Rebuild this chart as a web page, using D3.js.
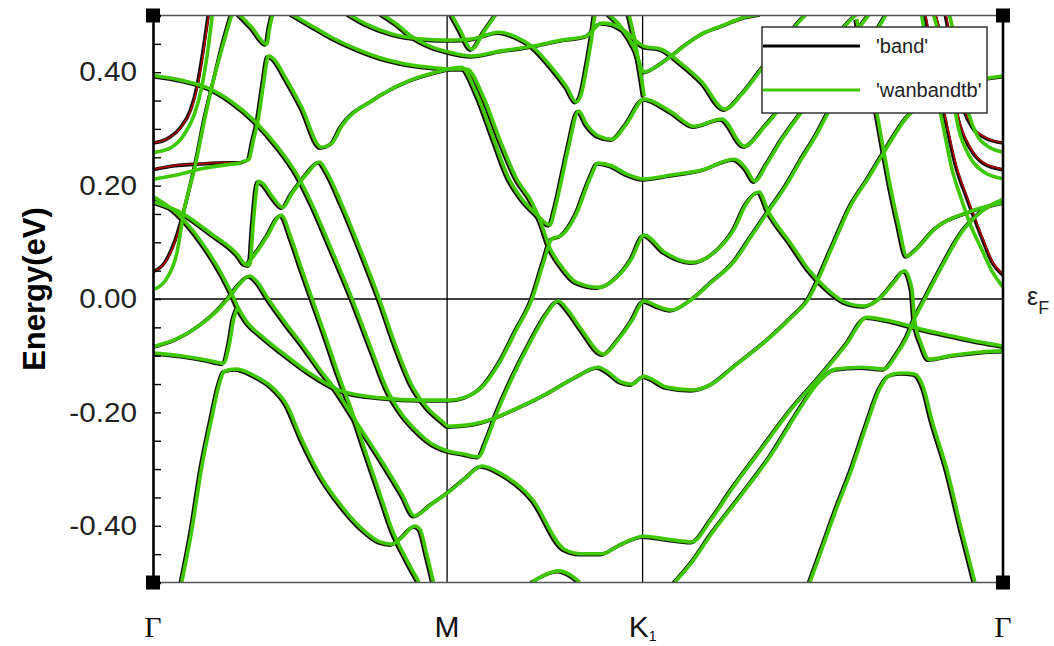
<!DOCTYPE html>
<html>
<head>
<meta charset="utf-8">
<script src="https://cdn.jsdelivr.net/npm/d3@7"></script>
<style>
  body { margin: 0; background: #fff; }
  svg { display: block; font-family: "Liberation Sans", Arial, sans-serif; }
</style>
</head>
<body>
<svg id="chart" width="1054" height="646"></svg>
<script>
// k runs along the path G-M-K1-G, normalised to 0..1 ; energies in eV
var kTicks = [0, 0.346, 0.576, 1];
var kNames = ["Γ", "M", "K", "Γ"];
var eTicks = [-0.45, -0.4, -0.35, -0.3, -0.25, -0.2, -0.15, -0.1, -0.05, 0, 0.05, 0.1, 0.15, 0.2, 0.25, 0.3, 0.35, 0.4, 0.45];
var eLabels = [-0.4, -0.2, 0, 0.2, 0.4];
var seriesNames = ["'band'", "'wanbandtb'"];

// bands, [k, E]
var b01 = [[0,.392],[.032,.384],[.064,.370],[.091,.346],[.120,.309],[.144,.268],[.167,.219],[.185,.166],[.208,.086],[.232,0],[.255,-.090],[.273,-.160],[.291,-.205],[.306,-.231],[.326,-.257],[.346,-.270],[.364,-.275],[.381,-.280],[.391,-.249],[.402,-.205],[.420,-.143],[.444,-.072],[.461,-.028],[.475,-.005],[.487,-.023],[.502,-.055],[.528,-.099],[.544,-.076],[.561,-.041],[.576,-.005],[.591,-.014],[.608,-.021],[.632,-.002],[.655,.028],[.682,.065],[.702,.109],[.722,.153],[.744,.201],[.761,.245],[.779,.289],[.796,.337],[.820,.395],[.844,.457],[.861,.501]];
var b02 = [[0,.275],[.016,.282],[.032,.302],[.044,.333],[.052,.377],[.059,.439],[.065,.501]];
var b03 = [[0,.257],[.020,.266],[.035,.289],[.047,.325],[.055,.369],[.062,.430],[.068,.501]];
var b04a = [[0,.228],[.026,.235],[.055,.238],[.085,.240],[.102,.240]];
var b04b = [[0,.210],[.026,.217],[.055,.228],[.085,.235],[.102,.238]];
var b04 = [[.102,.240],[.111,.245],[.116,.277],[.122,.316],[.128,.377],[.134,.427],[.140,.422],[.155,.386],[.173,.337],[.196,.266],[.208,.272],[.220,.303],[.259,.351],[.299,.383],[.346,.404]];
var b06 = [[.099,.501],[.114,.478],[.132,.448],[.135,.474],[.139,.501]];
var b07a = [[0,.048],[.014,.065],[.026,.104],[.038,.166],[.049,.236],[.061,.325],[.071,.386],[.081,.448],[.091,.501]];
var b07b = [[0,.016],[.014,.034],[.026,.078],[.035,.157],[.047,.228],[.059,.316],[.069,.383],[.080,.444],[.091,.501]];
var b08 = [[0,.169],[.032,.150],[.067,.113],[.099,.074],[.106,.060],[.112,.058],[.116,.131],[.122,.206],[.128,.201],[.138,.180],[.151,.160],[.161,.183],[.179,.219],[.194,.240],[.202,.224],[.220,.166],[.244,.078],[.264,0],[.285,-.090],[.302,-.152],[.320,-.192],[.338,-.217],[.346,-.226],[.367,-.224],[.385,-.219],[.424,-.196],[.461,-.169],[.496,-.139],[.522,-.122],[.532,-.129],[.549,-.148],[.561,-.152],[.576,-.138],[.585,-.143],[.602,-.157],[.632,-.162],[.655,-.152],[.682,-.120],[.722,-.072],[.749,-.034],[.769,-.002],[.796,.086],[.820,.166],[.839,.210],[.858,.257],[.885,.319],[.914,.354],[.949,.377],[1,.392]];
var b09 = [[0,.178],[.026,.150],[.055,.099],[.079,.042],[.091,.007],[.098,-.016],[.108,-.041],[.126,-.067],[.149,-.095],[.181,-.131],[.220,-.164],[.267,-.176],[.314,-.180],[.346,-.180],[.365,-.175],[.385,-.157],[.405,-.116],[.426,-.055],[.444,-.002],[.458,.065],[.467,.104],[.479,.111],[.496,.148],[.512,.210],[.522,.238],[.538,.233],[.555,.219],[.576,.210],[.608,.217],[.644,.226],[.682,.245],[.696,.228],[.706,.206],[.720,.236],[.738,.280],[.761,.328],[.785,.377],[.808,.430],[.832,.483],[.841,.501]];
var b10 = [[0,-.085],[.026,-.072],[.055,-.046],[.073,-.023],[.088,.002],[.100,.025],[.112,.039],[.121,.028],[.133,0],[.155,-.046],[.173,-.081],[.196,-.129],[.212,-.160],[.235,-.213],[.267,-.287],[.291,-.346],[.306,-.384],[.326,-.363],[.346,-.342],[.367,-.316],[.385,-.296],[.408,-.310],[.444,-.354],[.482,-.443],[.502,-.451],[.526,-.451],[.549,-.434],[.576,-.420],[.602,-.425],[.632,-.430],[.655,-.390],[.679,-.337],[.714,-.266],[.749,-.196],[.785,-.134],[.814,-.081],[.838,-.034],[.867,-.041],[.902,-.055],[.938,-.067],[.973,-.078],[1,-.085]];
var b11 = [[.108,.058],[.120,.081],[.132,.108],[.149,.146],[.161,.104],[.173,.051],[.185,0],[.202,-.072],[.216,-.134],[.232,-.199],[.249,-.275],[.267,-.354],[.279,-.407],[.296,-.460],[.311,-.501]];
var b12 = [[0,-.097],[.032,-.102],[.061,-.109],[.081,-.115],[.088,-.081],[.093,-.037],[.098,-.016]];
var b13 = [[.032,-.501],[.044,-.407],[.055,-.302],[.067,-.213],[.076,-.152],[.082,-.129],[.096,-.125],[.120,-.139],[.138,-.157],[.155,-.187],[.173,-.249],[.196,-.316],[.220,-.367],[.244,-.407],[.265,-.430],[.279,-.434],[.291,-.422],[.306,-.402],[.312,-.407],[.320,-.451],[.328,-.501]];
var b16a = [[.161,.501],[.185,.480],[.208,.460],[.238,.439],[.267,.423],[.302,.411],[.346,.404]];
var b16b = [[.228,.501],[.249,.483],[.279,.466],[.314,.457],[.346,.455]];
var b16c = [[.267,.501],[.285,.483],[.302,.462],[.326,.443],[.346,.434]];
var b17 = [[.346,.455],[.373,.457],[.405,.469],[.426,.460],[.444,.444],[.467,.407],[.485,.372],[.496,.346],[.502,.360],[.508,.404],[.514,.457],[.518,.501]];
var b18 = [[.346,.434],[.373,.427],[.408,.436],[.444,.444],[.479,.455],[.508,.462],[.526,.485],[.538,.483],[.555,.469],[.576,.444],[.596,.439],[.620,.413],[.644,.381],[.671,.333],[.691,.360],[.714,.404],[.738,.448],[.761,.492],[.767,.501]];
var b19 = [[.349,.501],[.359,.474],[.373,.439],[.388,.471],[.402,.501]];
var b20 = [[.534,.501],[.549,.478],[.565,.439],[.576,.399],[.591,.409],[.608,.427],[.626,.448],[.644,.466],[.667,.480],[.696,.496],[.714,.501]];
var b21 = [[.558,.501],[.567,.439],[.576,.356]];
var b22 = [[.346,.404],[.361,.407],[.379,.360],[.399,.280],[.416,.213],[.432,.175],[.449,.148],[.465,.129],[.471,.157],[.479,.210],[.487,.266],[.499,.330],[.508,.307],[.522,.286],[.538,.280],[.555,.307],[.576,.351],[.608,.328],[.635,.303],[.667,.316],[.694,.268],[.718,.303],[.749,.360],[.779,.413],[.814,.483],[.826,.501]];
var b23 = [[.346,.404],[.367,.404],[.387,.354],[.406,.280],[.426,.210],[.444,.169],[.455,.131],[.464,.092],[.479,.055],[.496,.028],[.522,.019],[.544,.037],[.561,.069],[.576,.111],[.600,.081],[.632,.063],[.659,.081],[.682,.122],[.696,.166],[.711,.187],[.722,.153],[.749,.095],[.769,.051],[.791,.016],[.812,-.007],[.835,-.014],[.852,-.002],[.871,.030],[.882,.048],[.891,.016],[.894,-.037],[.902,-.081],[.911,-.108],[.938,-.101],[.973,-.095],[1,-.093]];
var b29 = [[.444,-.501],[.461,-.487],[.475,-.481],[.491,-.490],[.500,-.501]];
var b30 = [[.612,-.501],[.632,-.466],[.655,-.416],[.691,-.346],[.726,-.275],[.755,-.205],[.779,-.152],[.802,-.125],[.832,-.122],[.858,-.125],[.873,-.099],[.885,-.069],[.894,-.037],[.908,.004],[.926,.055],[.949,.115],[.973,.153],[1,.175]];
var b31 = [[.771,-.501],[.785,-.443],[.802,-.372],[.820,-.302],[.838,-.222],[.853,-.160],[.865,-.136],[.879,-.132],[.894,-.134],[.905,-.160],[.914,-.213],[.932,-.302],[.949,-.407],[.965,-.501]];
var b33 = [[.932,.501],[.940,.439],[.947,.377],[.954,.333],[.964,.302],[.979,.284],[1,.275]];
var b34 = [[.935,.501],[.944,.439],[.951,.377],[.958,.325],[.967,.289],[.982,.266],[1,.257]];
var b35 = [[.920,.501],[.932,.430],[.941,.360],[.949,.307],[.961,.266],[.976,.240],[1,.228]];
var b36 = [[.916,.501],[.929,.430],[.938,.360],[.946,.298],[.959,.249],[.976,.222],[1,.210]];
var b37 = [[.826,.492],[.834,.430],[.844,.369],[.851,.316],[.858,.257],[.865,.201],[.875,.131],[.885,.074],[.896,.086],[.918,.122],[.958,.152],[1,.169]];
var b39 = [[.908,.501],[.920,.404],[.932,.316],[.944,.236],[.958,.175],[.967,.139],[.976,.104],[.987,.065],[1,.042]];
var b40 = [[.902,.501],[.914,.404],[.926,.316],[.938,.228],[.949,.175],[.961,.125],[.973,.086],[.985,.048],[1,.016]];

// which file each curve shows up in: both, only 'band', only 'wanbandtb'
var bandList = [
  [b01, "both"], [b02, "band"], [b03, "wan"], [b04a, "band"], [b04b, "wan"], [b04, "both"],
  [b06, "both"], [b07a, "band"], [b07b, "wan"], [b08, "both"], [b09, "both"], [b10, "both"],
  [b11, "both"], [b12, "both"], [b13, "both"], [b16a, "both"], [b16b, "both"], [b16c, "both"],
  [b17, "both"], [b18, "both"], [b19, "both"], [b20, "both"], [b21, "both"], [b22, "both"],
  [b23, "both"], [b29, "both"], [b30, "both"], [b31, "both"], [b33, "band"], [b34, "wan"],
  [b35, "band"], [b36, "wan"], [b37, "both"], [b39, "band"], [b40, "wan"]
];

var svg = d3.select("#chart");
var pLeft = 153, pRight = 1003, pTop = 15.5, pBottom = 582.5;

var x = d3.scaleLinear().domain([0, 1]).range([pLeft, pRight]);
var y = d3.scaleLinear().domain([-0.5, 0.5]).range([pBottom, pTop]);

svg.append("defs").append("clipPath").attr("id", "plotclip")
  .append("rect")
  .attr("x", pLeft).attr("y", pTop)
  .attr("width", pRight - pLeft).attr("height", pBottom - pTop);

var plot = svg.append("g").attr("clip-path", "url(#plotclip)");

// high symmetry lines and the Fermi level
plot.selectAll(".kline")
  .data(kTicks.slice(1, 3))
  .enter().append("line")
  .attr("x1", function(d) { return x(d); }).attr("x2", function(d) { return x(d); })
  .attr("y1", pTop).attr("y2", pBottom)
  .attr("stroke", "#000").attr("stroke-width", 1.3);

plot.append("line")
  .attr("x1", pLeft).attr("x2", pRight)
  .attr("y1", y(0)).attr("y2", y(0))
  .attr("stroke", "#000").attr("stroke-width", 1.3);

var line = d3.line()
  .x(function(d) { return x(d[0]); })
  .y(function(d) { return y(d[1]); })
  .curve(d3.curveMonotoneX);

var dftBands = bandList.filter(function(b) { return b[1] != "wan"; });
var wanBands = bandList.filter(function(b) { return b[1] != "band"; });

plot.selectAll(".dft")
  .data(dftBands)
  .enter().append("path")
  .attr("class", "dft")
  .attr("d", function(d) { return line(d[0]); })
  .attr("fill", "none")
  .attr("stroke", "#111")
  .attr("stroke-width", 3.6);

plot.selectAll(".dftred")
  .data(dftBands)
  .enter().append("path")
  .attr("class", "dftred")
  .attr("d", function(d) { return line(d[0]); })
  .attr("fill", "none")
  .attr("stroke", "#b00000")
  .attr("stroke-width", 1.6)
  .attr("transform", "translate(0.7,-0.4)");

plot.selectAll(".wan")
  .data(wanBands)
  .enter().append("path")
  .attr("class", "wan")
  .attr("d", function(d) { return line(d[0]); })
  .attr("fill", "none")
  .attr("stroke", "#3ec800")
  .attr("stroke-width", 3.6)
  .attr("stroke-linejoin", "round")
  .attr("transform", "translate(1.6,-0.9)");

// frame
svg.append("line").attr("x1", pLeft).attr("x2", pRight).attr("y1", pTop).attr("y2", pTop)
  .attr("stroke", "#555").attr("stroke-width", 1.6);
svg.append("line").attr("x1", pLeft).attr("x2", pRight).attr("y1", pBottom).attr("y2", pBottom)
  .attr("stroke", "#555").attr("stroke-width", 1.6);
svg.append("line").attr("x1", pRight).attr("x2", pRight).attr("y1", pTop).attr("y2", pBottom)
  .attr("stroke", "#000").attr("stroke-width", 2.6);

// energy axis, ticks pointing in
var yAxis = d3.axisLeft(y)
  .tickValues(eTicks)
  .tickSize(-8)
  .tickFormat(function(d) {
    return eLabels.some(function(v) { return Math.abs(v - d) < 1e-6; }) ? d.toFixed(2) : "";
  });

var ag = svg.append("g")
  .attr("transform", "translate(" + pLeft + ",0)")
  .call(yAxis);
ag.select(".domain").attr("stroke", "#000").attr("stroke-width", 2.6);
ag.selectAll(".tick line").attr("stroke", "#000").attr("stroke-width", 1.4);
ag.selectAll(".tick text")
  .attr("x", -16 / 1.1)
  .attr("transform", "scale(1.1,1)")
  .attr("font-size", 27)
  .attr("font-family", "Liberation Sans, Arial, sans-serif")
  .attr("fill", "#222");

// corner markers
var corners = [[pLeft, pTop], [pRight, pTop], [pLeft, pBottom], [pRight, pBottom]];
svg.selectAll(".corner")
  .data(corners)
  .enter().append("rect")
  .attr("x", function(d) { return d[0] - 7; })
  .attr("y", function(d) { return d[1] - 7; })
  .attr("width", 14).attr("height", 14)
  .attr("fill", "#000");

// k-point labels
var kl = svg.selectAll(".klab")
  .data(kTicks)
  .enter().append("text")
  .attr("x", function(d) { return x(d); })
  .attr("y", 637)
  .attr("text-anchor", "middle")
  .attr("font-size", 30)
  .attr("fill", "#111")
  .attr("font-family", function(d, i) { return kNames[i] == "Γ" ? "Liberation Serif, serif" : "Liberation Sans, Arial, sans-serif"; })
  .text(function(d, i) { return kNames[i]; });
kl.filter(function(d, i) { return i == 2; })
  .append("tspan").attr("dy", 4).attr("font-size", 14).text("1");

// Fermi level label
var ef = svg.append("text")
  .attr("x", 1027).attr("y", 305)
  .attr("font-size", 25)
  .attr("fill", "#222")
  .text("ε");
ef.append("tspan").attr("dy", 9).attr("font-size", 18).text("F");

// y title
svg.append("text")
  .attr("transform", "translate(45,289) rotate(-90)")
  .attr("text-anchor", "middle")
  .attr("font-size", 31)
  .attr("font-weight", "bold")
  .attr("fill", "#000")
  .text("Energy(eV)");

// legend
var lg = svg.append("g");
lg.append("rect")
  .attr("x", 762).attr("y", 27).attr("width", 225).attr("height", 86)
  .attr("fill", "#fff").attr("stroke", "#333").attr("stroke-width", 1.5);
var legendColors = ["#000", "#3ec800"];
var legendY = [46, 90];
seriesNames.forEach(function(name, i) {
  lg.append("line")
    .attr("x1", 763).attr("x2", 860)
    .attr("y1", legendY[i]).attr("y2", legendY[i])
    .attr("stroke", legendColors[i]).attr("stroke-width", 3);
  lg.append("text")
    .attr("x", 876).attr("y", legendY[i] + 7)
    .attr("font-size", 20)
    .attr("fill", "#222")
    .text(name);
});
</script>
</body>
</html>
